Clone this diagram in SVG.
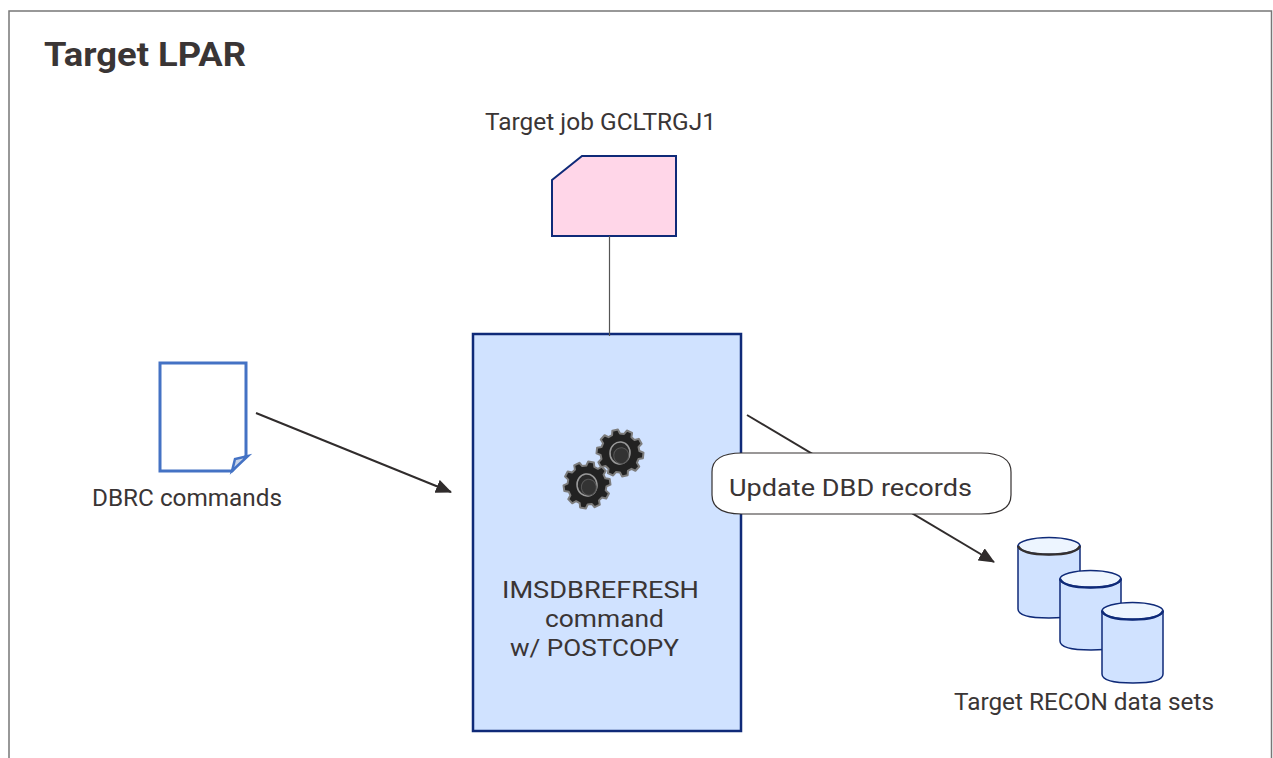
<svg xmlns="http://www.w3.org/2000/svg" width="1273" height="758" viewBox="0 0 1273 758">
<style>
text{font-family:Roboto,"Noto Sans","Liberation Sans",sans-serif;font-size:24.500px;fill:#3a3535}
.conn{stroke:#302c2c;stroke-width:2;fill:none}
.cyl{fill:#d0e2ff;stroke:#0f2a78;stroke-width:1.500}
.top{fill:#edf5ff;stroke:#0f2a78;stroke-width:1.500}
.lip{fill:none;stroke:#0f2a78;stroke-width:2.500}
</style>
<defs>
<marker id="arr" markerUnits="userSpaceOnUse" markerWidth="16" markerHeight="14" refX="15" refY="7" orient="auto"><path d="M0 0L16 7L0 14Z" fill="#302c2c"/></marker>
<g id="gear">
<path fill="#222" stroke="#7d7d7d" stroke-width="2" stroke-linejoin="round" d="M19.07 -4.05L23.32 -2.86L23.32 2.86L19.07 4.05L17.81 7.93L20.55 11.39L17.19 16.03L13.05 14.49L9.75 16.89L9.93 21.3L4.48 23.07L2.04 19.39L-2.04 19.39L-4.48 23.07L-9.93 21.3L-9.75 16.89L-13.05 14.49L-17.19 16.03L-20.55 11.39L-17.81 7.93L-19.07 4.05L-23.32 2.86L-23.32 -2.86L-19.07 -4.05L-17.81 -7.93L-20.55 -11.39L-17.19 -16.03L-13.05 -14.49L-9.75 -16.89L-9.93 -21.3L-4.48 -23.07L-2.04 -19.39L2.04 -19.39L4.48 -23.07L9.93 -21.3L9.75 -16.89L13.05 -14.49L17.19 -16.03L20.55 -11.39L17.81 -7.93Z"/>
<ellipse rx="10" ry="11" fill="#2a2a2a" stroke="#9a9a9a" stroke-width="1.500"/>
<ellipse cx="1.500" cy="2.500" rx="7.500" ry="8" fill="#333" stroke="#555" stroke-width="1"/>
</g>
</defs>
<rect width="1273" height="758" fill="#fff"/>
<path id="frame" d="M9 758V11H1271.500V758" fill="none" stroke="#777" stroke-width="1.500"/>
<text id="title" x="44" y="66" style="font-size:33px;font-weight:700" textLength="202" lengthAdjust="spacingAndGlyphs">Target LPAR</text>
<g id="job"><path d="M552 180L582 156H676V236H552Z" fill="#ffd6e8" stroke="#0f2a78" stroke-width="2"/><text x="485" y="130" textLength="231" lengthAdjust="spacingAndGlyphs">Target job GCLTRGJ1</text></g>
<g id="refresh"><rect x="473" y="334" width="268" height="397" fill="#d0e2ff" stroke="#0f2a78" stroke-width="2.500"/>
<use href="#gear" x="620" y="453" transform="rotate(6 620 453)"/><use href="#gear" x="587" y="485" transform="rotate(-8 587 485)"/>
<text x="502" y="598" textLength="197" lengthAdjust="spacingAndGlyphs">IMSDBREFRESH</text><text x="545" y="627" textLength="119" lengthAdjust="spacingAndGlyphs">command</text><text x="510" y="656" textLength="169" lengthAdjust="spacingAndGlyphs">w/ POSTCOPY</text></g>
<g id="dbrc"><path d="M160 363H246V456L232 471H160Z" fill="#fff" stroke="#4472c4" stroke-width="3"/><path d="M232 471L235 459L248 456Z" fill="#c9d4e8" stroke="#4472c4" stroke-width="2.500"/><text x="92" y="506" textLength="190" lengthAdjust="spacingAndGlyphs">DBRC commands</text></g>
<g id="connectors">
<path d="M609.500 236V336" fill="none" stroke="#555" stroke-width="1.200"/>
<path class="conn" d="M256 413L451 492" marker-end="url(#arr)"/>
<path class="conn" d="M747 415L994 562" marker-end="url(#arr)"/>
</g>
<g id="callout"><path d="M742 453H981C1003 453 1011 460 1011 472V495C1011 507 1003 514 981 514H742C720 514 712 507 712 495V472C712 460 720 453 742 453Z" fill="#fff" stroke="#343030" stroke-width="1.200"/><text x="729" y="496" textLength="243" lengthAdjust="spacingAndGlyphs">Update DBD records</text></g>
<g id="recon">
<path class="cyl" d="M1018 546V609Q1018 618 1049 618Q1080 618 1080 609V546Z"/><ellipse class="top" cx="1049" cy="546" rx="31" ry="8.500"/><path class="lip" style="stroke:#343030" d="M1018 546Q1022 554.500 1049 554.500Q1076 554.500 1080 546"/>
<path class="cyl" d="M1060 579V641Q1060 650 1091 650Q1121 650 1121 641V579Z"/><ellipse class="top" cx="1090.500" cy="579" rx="30.500" ry="8.500"/><path class="lip" d="M1060 579Q1064 587.500 1090.500 587.500Q1117 587.500 1121 579"/>
<path class="cyl" d="M1102 611V674Q1102 683 1133 683Q1163 683 1163 674V611Z"/><ellipse class="top" cx="1132.500" cy="611" rx="30.500" ry="8.500"/><path class="lip" d="M1102 611Q1106 619.500 1132.500 619.500Q1159 619.500 1163 611"/>
<text x="954" y="710" textLength="260" lengthAdjust="spacingAndGlyphs">Target RECON data sets</text></g>
</svg>
